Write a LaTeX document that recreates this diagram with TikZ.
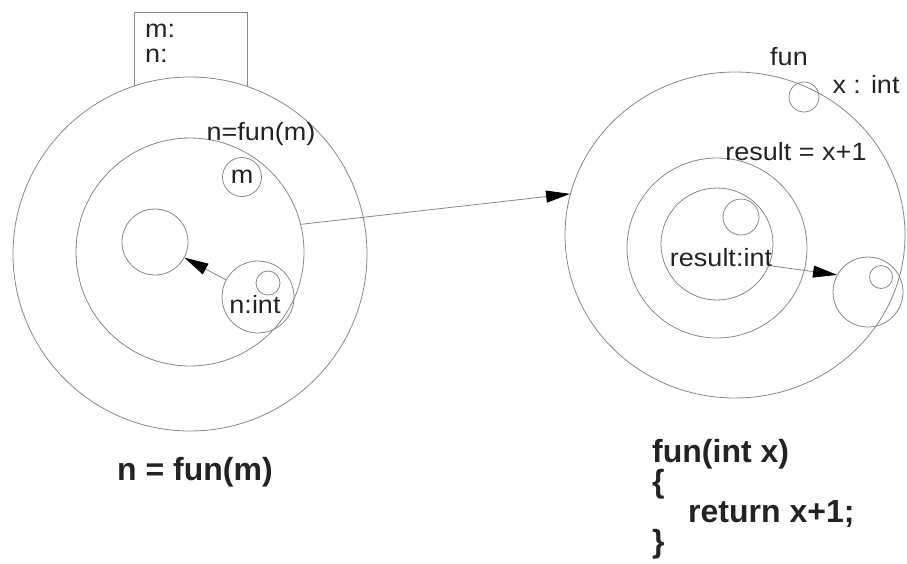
\documentclass[tikz,border=0pt]{standalone}
\usepackage{fontspec}
\setmainfont{Liberation Sans}
\newfontfamily\labfont[FakeStretch=1.08]{Liberation Sans}
\usetikzlibrary{arrows.meta,shapes.geometric}
\definecolor{linegray}{RGB}{135,135,135}
\definecolor{textgray}{RGB}{35,35,35}
\tikzset{
  circ/.style={circle, draw=linegray, line width=0.8pt, inner sep=0pt},
  lab/.style={font=\labfont\fontsize{25}{30}\selectfont, text=textgray, inner sep=0pt},
  codetxt/.style={font=\bfseries\fontsize{32}{36}\selectfont, text=textgray, inner sep=0pt, anchor=base west},
  conn/.style={draw=linegray, line width=0.8pt, -{Triangle[length=24pt,width=12pt,color=black]}},
  plain/.style={draw=linegray, line width=0.8pt}
}
\begin{document}
\begin{tikzpicture}[x=1pt,y=-1pt]
\useasboundingbox (0,0) rectangle (907,563);
% left side
\node[circ, minimum size=354pt] (lo) at (190,254) {};
\node[circ, minimum size=228pt] (li) at (190,252) {};
\node[circ, minimum size=66pt] (lc) at (155,242) {};
\node[circ, minimum size=39pt, lab] (lm) at (242,177) {m};
\node[circ, minimum size=72pt] (lnint) at (258,297) {};
\node[circ, minimum size=24pt] (lns) at (268,283) {};
\node[lab, anchor=base] (lnintlab) at (255,313) {n:int};
\node[lab, anchor=base] (lcall) at (261,140) {n=fun(m)};
\draw[plain] (134,86) -- (134,12) -- (247,12) -- (247,86);
\node[lab, anchor=base west] (boxm) at (145,37) {m:};
\node[lab, anchor=base west] (boxn) at (145,62) {n:};
\draw[conn] (lnint) -- (lc);
% right side
\node[ellipse, draw=linegray, line width=0.8pt, inner sep=0pt, minimum width=340pt, minimum height=326pt] (ro) at (735,235) {};
\node[circ, minimum size=180pt] (rm) at (717,248) {};
\node[circ, minimum size=112pt] (ri) at (717,244) {};
\node[circ, minimum size=36pt] (rs) at (741,217) {};
\node[circ, minimum size=30pt] (rx) at (804,97) {};
\node[circ, minimum size=70pt] (rt) at (868,292) {};
\node[circ, minimum size=23pt] (rts) at (881,277) {};
\node[lab, anchor=base] (rfun) at (789,65) {fun};
\node[lab, anchor=base] (rxint) at (866,93) {x : int};
\node[lab, anchor=base] (rres) at (796,160) {result = x+1};
\node[lab, anchor=base] (rreslab) at (721,266) {result:int};
\draw[conn] (li.14) -- (ro.166);
\draw[conn] (rreslab.base east) -- (rt.151);
% bold texts
\node[codetxt] (call) at (117,480) {n = fun(m)};
\node[codetxt] (code1) at (652,462) {fun(int x)};
\node[codetxt] (code2) at (652,492) {\{};
\node[codetxt] (code3) at (688,522) {return x+1;};
\node[codetxt] (code4) at (652,552) {\}};
\end{tikzpicture}
\end{document}
